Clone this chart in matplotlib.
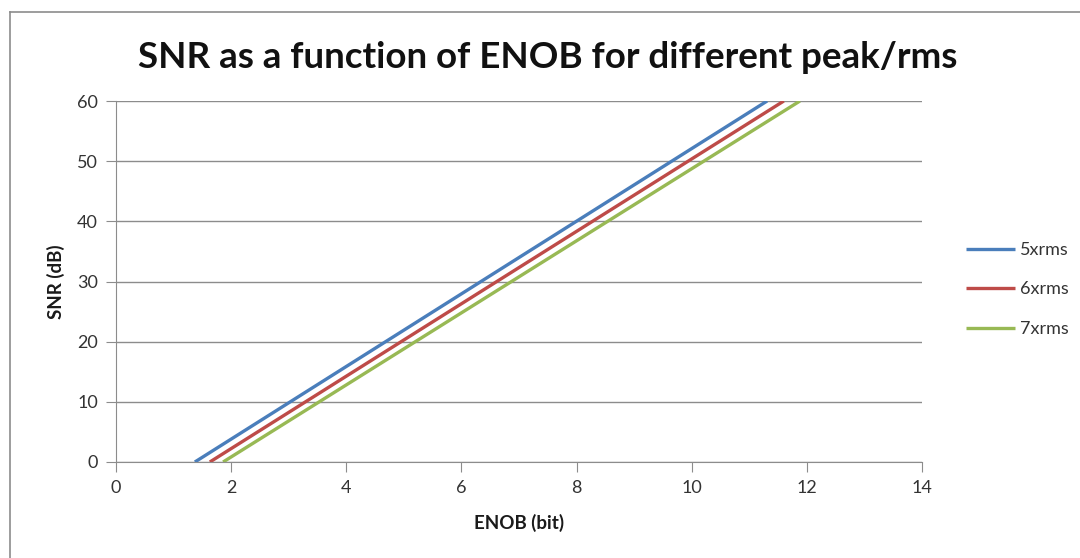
import matplotlib
matplotlib.use('Agg')
import matplotlib.pyplot as plt
from matplotlib.lines import Line2D

plt.rcParams['font.family'] = ['Lato', 'DejaVu Sans']

# values: ENOB where each line hits SNR 0 and SNR 60
series_names = ['5xrms', '6xrms', '7xrms']
series_colors = ['#4A7EBB', '#BE4B48', '#98B954']
snr_points = [0, 60]
enob_5x = [1.37, 11.31]
enob_6x = [1.63, 11.60]
enob_7x = [1.86, 11.88]
x_ticks = [0, 2, 4, 6, 8, 10, 12, 14]
y_ticks = [0, 10, 20, 30, 40, 50, 60]

fig = plt.figure(figsize=(10.8, 5.58), dpi=100)
ax = fig.add_axes([116/1080, 1 - 462/558, (922-116)/1080, (462-101)/558])

# outer chart border (left and top only visible)
fig.add_artist(Line2D([10/1080, 10/1080], [0, 1 - 12/558], transform=fig.transFigure, color='#8c8c8c', lw=1.2))
fig.add_artist(Line2D([10/1080, 1], [1 - 12/558, 1 - 12/558], transform=fig.transFigure, color='#8c8c8c', lw=1.2))

for name, color, xs in zip(series_names, series_colors, [enob_5x, enob_6x, enob_7x]):
    ax.plot(xs, snr_points, color=color, lw=2.4, label=name, solid_capstyle='butt')

ax.set_xlim(0, 14)
ax.set_ylim(0, 60)
ax.set_xticks(x_ticks)
ax.set_yticks(y_ticks)
ax.grid(axis='y', color='#8c8c8c', lw=1)
ax.set_axisbelow(True)
for s in ['top', 'right']:
    ax.spines[s].set_visible(False)
for s in ['left', 'bottom']:
    ax.spines[s].set_color('#8c8c8c')
ax.tick_params(axis='both', colors='#8c8c8c', length=7, labelsize=13, labelcolor='#333333')
ax.tick_params(axis='x', pad=6)
ax.tick_params(axis='y', pad=6)

ax.set_xlabel('ENOB (bit)', fontsize=13.5, fontweight='bold', color='#1a1a1a', labelpad=13)
ax.set_ylabel('SNR (dB)', fontsize=13.5, fontweight='bold', color='#1a1a1a', labelpad=9)

fig.text(548/1080, 1 - 58/558, 'SNR as a function of ENOB for different peak/rms',
         ha='center', va='center', fontsize=26.5, fontweight='bold', color='#111111')

leg = ax.legend(loc='center left', bbox_to_anchor=(1.035, 0.478), frameon=False,
                fontsize=13, handlelength=2.7, labelspacing=1.3, handletextpad=0.25)
for t in leg.get_texts():
    t.set_color('#333333')

fig.savefig('out.png', dpi=100, facecolor='white')
